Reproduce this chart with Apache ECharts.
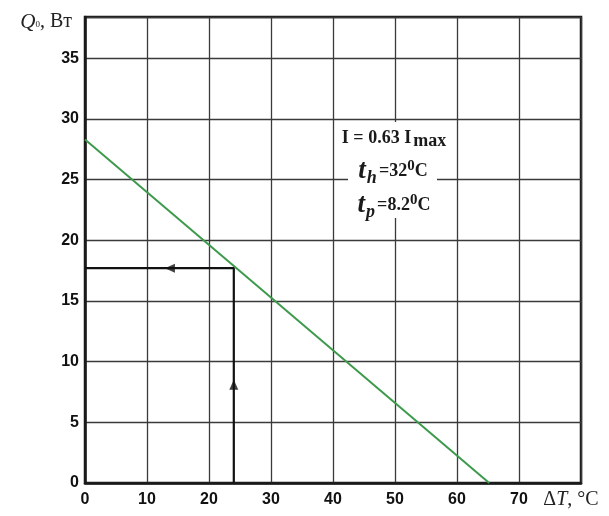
<!DOCTYPE html>
<html>
<head>
<meta charset="utf-8">
<script src="https://cdn.jsdelivr.net/npm/echarts@6/dist/echarts.min.js"></script>
<style>
  html, body { margin: 0; padding: 0; background: #fff; }
  #chart { width: 609px; height: 516px; }
</style>
</head>
<body>
<div id="chart"></div>
<script>
(function() {
    // characteristic line Q0(dT)
    const lineData = [[0, 28.3], [65.2, 0]];
    // working point path: from dT axis up to the line, then left to Q0 axis
    const pathData = [[24, 0], [24, 17.7], [0, 17.7]];
    // arrow heads along the path
    const arrowUp = [[24, 8.1]];
    const arrowLeft = [[13.7, 17.7]];

    const xTicks = [0, 10, 20, 30, 40, 50, 60, 70];
    const yTicks = [0, 5, 10, 15, 20, 25, 30, 35];

    const gridColor = '#3a3a3a';
    const labelFont = { color: '#111', fontFamily: 'Liberation Sans', fontWeight: 'bold', fontSize: 16 };
    const serif = 'Liberation Serif';
    const ink = '#1a1a1a';

    // rich text styles for the annotation lines
    const noteRich = {
        n: { fontFamily: serif, fontWeight: 'bold', fontSize: 18, fill: ink },
        s: { fontFamily: serif, fontWeight: 'bold', fontSize: 18, fill: ink, padding: [7, 0, 0, 2] },
        t: { fontFamily: serif, fontStyle: 'italic', fontWeight: 'bold', fontSize: 27, fill: ink, padding: [0, 1, 0, 0] },
        b: { fontFamily: serif, fontStyle: 'italic', fontWeight: 'bold', fontSize: 18, fill: ink, padding: [14, 2, 0, 0] },
        p: { fontFamily: serif, fontWeight: 'bold', fontSize: 15, fill: ink, padding: [0, 0, 10, 0] }
    };

    const chart = echarts.init(document.getElementById('chart'));
    chart.setOption({
        animation: false,
        backgroundColor: '#fff',
        grid: { left: 85, right: 28, top: 17, bottom: 33, show: true, borderColor: '#1a1a1a', borderWidth: 2.5, backgroundColor: 'transparent' },
        xAxis: {
            type: 'value', min: 0, max: 80, interval: 10,
            name: '{d|Δ}{i|T}{n|, °C}',
            nameLocation: 'end', nameGap: -10,
            nameTextStyle: {
                align: 'center', verticalAlign: 'top', padding: [7, 0, 0, 0],
                rich: {
                    d: { fontFamily: serif, fontSize: 20, color: '#222' },
                    i: { fontFamily: serif, fontStyle: 'italic', fontSize: 20, color: '#222' },
                    n: { fontFamily: serif, fontSize: 20, color: '#222' }
                }
            },
            axisLine: { show: true, lineStyle: { color: '#1a1a1a', width: 2.5 } },
            axisTick: { show: false },
            splitLine: { show: true, lineStyle: { color: gridColor, width: 1.3 } },
            axisLabel: Object.assign({ margin: 9, formatter: v => xTicks.includes(v) ? String(v) : '' }, labelFont)
        },
        yAxis: {
            type: 'value', min: 0, max: 38.4, interval: 5,
            name: '{q|Q}{s|0}{n|, Вт}',
            nameLocation: 'end', nameGap: -5,
            nameTextStyle: {
                align: 'right', verticalAlign: 'middle', padding: [0, 13, 0, 0],
                rich: {
                    q: { fontFamily: serif, fontStyle: 'italic', fontSize: 21, color: '#222' },
                    s: { fontFamily: serif, fontSize: 9, color: '#222', padding: [6, 0, 0, 0] },
                    n: { fontFamily: serif, fontSize: 20, color: '#222' }
                }
            },
            axisLine: { show: true, lineStyle: { color: '#1a1a1a', width: 2.5 } },
            axisTick: { show: false },
            splitLine: { show: true, lineStyle: { color: gridColor, width: 1.3 } },
            axisLabel: Object.assign({ margin: 6, formatter: v => yTicks.includes(v) ? String(v) : '' }, labelFont)
        },
        graphic: [
            { type: 'rect', z: 10, shape: { x: 348, y: 122, width: 89, height: 96 }, style: { fill: '#fff' } },
            {
                type: 'text', z: 11, x: 394, y: 138,
                style: { text: '{n|I = 0.63 I}{s|max}', align: 'center', verticalAlign: 'middle', rich: noteRich }
            },
            {
                type: 'text', z: 11, x: 393, y: 171,
                style: { text: '{t|t}{b|h}{n|=32}{p|0}{n|C}', align: 'center', verticalAlign: 'middle', rich: noteRich }
            },
            {
                type: 'text', z: 11, x: 394, y: 205,
                style: { text: '{t|t}{b|p}{n|=8.2}{p|0}{n|C}', align: 'center', verticalAlign: 'middle', rich: noteRich }
            }
        ],
        series: [
            {
                type: 'line', data: lineData, symbol: 'none', z: 3,
                lineStyle: { color: '#3d9a4c', width: 2 }
            },
            {
                type: 'line', data: pathData, symbol: 'none', z: 4,
                lineStyle: { color: '#111', width: 2.2 }
            },
            {
                type: 'scatter', data: arrowUp, symbol: 'triangle', symbolSize: [9, 10], z: 5,
                itemStyle: { color: '#111' }
            },
            {
                type: 'scatter', data: arrowLeft, symbol: 'triangle', symbolSize: [9, 10], symbolRotate: 90, z: 5,
                itemStyle: { color: '#111' }
            }
        ]
    });
})();
</script>
</body>
</html>
